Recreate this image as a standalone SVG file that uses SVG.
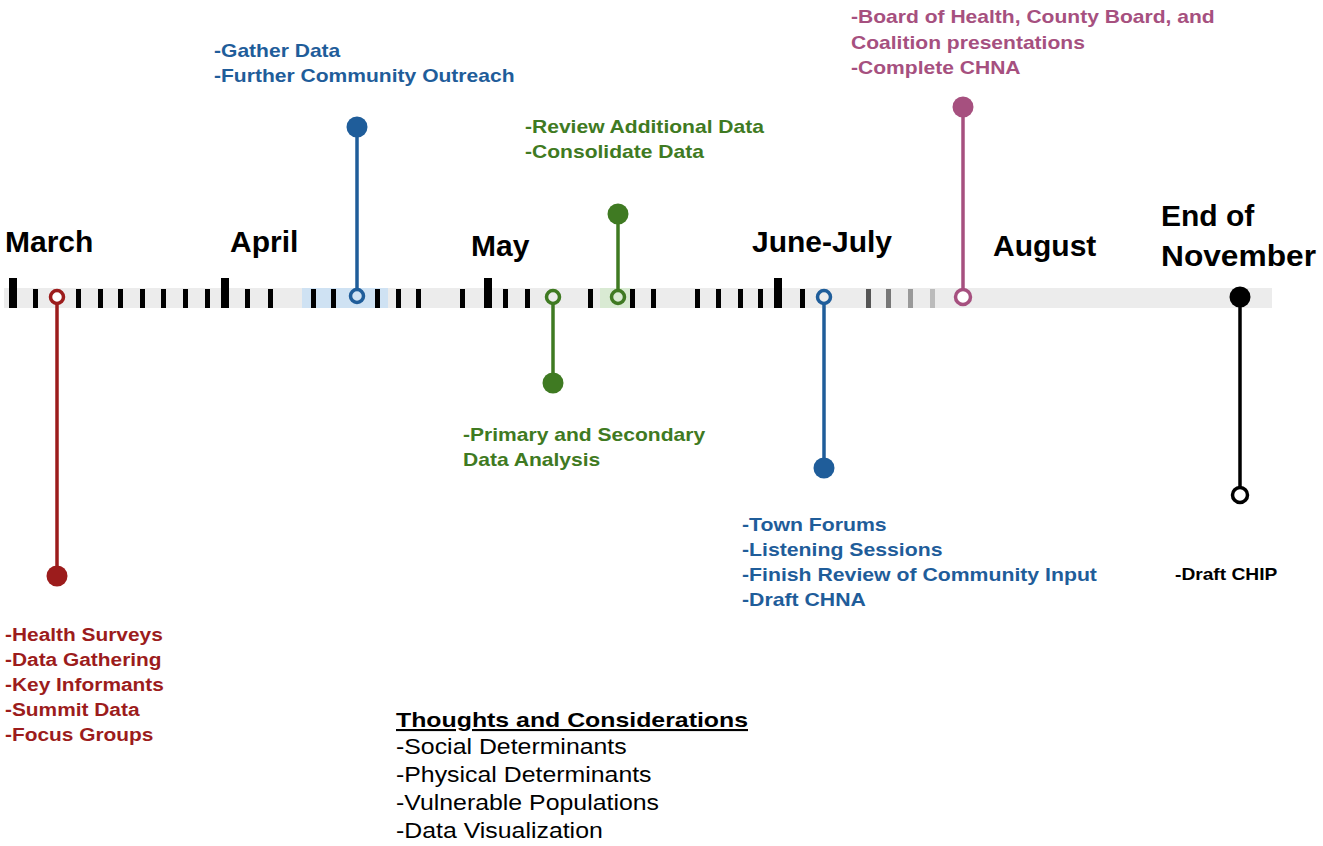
<svg xmlns="http://www.w3.org/2000/svg" width="1323" height="846" viewBox="0 0 1323 846">
<style>
.m{font-family:"Liberation Sans",Arial,sans-serif;font-weight:bold;font-size:30px;fill:#000}
.t{font-family:"Liberation Sans",Arial,sans-serif;font-weight:bold;font-size:18px}
.r{fill:#9c1c1c}.b{fill:#1f5d9a}.g{fill:#3f7a22}.p{fill:#a6507f}.k{fill:#000}
.s{stroke-width:3.5;fill:none}
.tk{fill:#000}
.n{font-family:"Liberation Sans",Arial,sans-serif;font-size:22px;fill:#000}
</style>
<rect x="0" y="0" width="1323" height="846" fill="#fff"/>
<g id="timeline">
<rect x="4" y="288" width="1268" height="20" fill="#ececec"/>
<rect x="302" y="288" width="86" height="20" fill="#cfe2f3"/>
<rect x="600" y="288" width="32" height="20" fill="#d9ead3"/>
<g class="tk">
<rect x="9" y="278" width="8" height="30"/>
<rect x="33" y="289" width="5" height="19"/>
<rect x="76" y="289" width="5" height="19"/>
<rect x="98" y="289" width="5" height="19"/>
<rect x="118" y="289" width="5" height="19"/>
<rect x="140" y="289" width="5" height="19"/>
<rect x="161" y="289" width="5" height="19"/>
<rect x="183" y="289" width="5" height="19"/>
<rect x="205" y="289" width="5" height="19"/>
<rect x="221" y="278" width="8" height="30"/>
<rect x="245" y="289" width="5" height="19"/>
<rect x="268" y="289" width="5" height="19"/>
<rect x="311" y="289" width="5" height="19"/>
<rect x="331" y="289" width="5" height="19"/>
<rect x="375" y="289" width="5" height="19"/>
<rect x="396" y="289" width="5" height="19"/>
<rect x="416" y="289" width="5" height="19"/>
<rect x="460" y="289" width="5" height="19"/>
<rect x="484" y="278" width="8" height="30"/>
<rect x="503" y="289" width="5" height="19"/>
<rect x="525" y="289" width="5" height="19"/>
<rect x="588" y="289" width="5" height="19"/>
<rect x="630" y="289" width="5" height="19"/>
<rect x="651" y="289" width="5" height="19"/>
<rect x="695" y="289" width="5" height="19"/>
<rect x="716" y="289" width="5" height="19"/>
<rect x="738" y="289" width="5" height="19"/>
<rect x="758" y="289" width="5" height="19"/>
<rect x="774" y="278" width="8" height="30"/>
<rect x="800" y="289" width="5" height="19"/>
<rect x="866" y="289" width="5" height="19" fill="#555"/>
<rect x="886" y="289" width="5" height="19" fill="#777"/>
<rect x="908" y="289" width="5" height="19" fill="#999"/>
<rect x="930" y="289" width="5" height="19" fill="#bbb"/>
</g>
</g>
<g id="connectors">
<line x1="57" y1="304" x2="57" y2="576" stroke="#9c1c1c" class="s"/>
<line x1="357" y1="127" x2="357" y2="290" stroke="#1f5d9a" class="s"/>
<line x1="553" y1="304" x2="553" y2="383" stroke="#3f7a22" class="s"/>
<line x1="618" y1="214" x2="618" y2="290" stroke="#3f7a22" class="s"/>
<line x1="824" y1="304" x2="824" y2="468" stroke="#1f5d9a" class="s"/>
<line x1="963" y1="107" x2="963" y2="290" stroke="#a6507f" class="s"/>
<line x1="1240" y1="297" x2="1240" y2="488" stroke="#000" class="s"/>
</g>
<g id="months">
<text class="m" x="5" y="252">March</text>
<text class="m" x="230" y="252">April</text>
<text class="m" x="471" y="256">May</text>
<text class="m" x="752" y="252">June-July</text>
<text class="m" x="993" y="256">August</text>
<text class="m" x="1161" y="226">End of</text>
<text class="m" x="1161" y="266" textLength="155" lengthAdjust="spacingAndGlyphs">November</text>
</g>
<g id="march">
<circle cx="57" cy="297" r="6.5" fill="#fff" stroke="#9c1c1c" stroke-width="3.5"/>
<circle cx="57" cy="576" r="10.5" class="r"/>
<g transform="translate(5,0) scale(1.16,1)">
<text class="t r" x="0" y="641">-Health Surveys</text>
<text class="t r" x="0" y="666">-Data Gathering</text>
<text class="t r" x="0" y="691">-Key Informants</text>
<text class="t r" x="0" y="716">-Summit Data</text>
<text class="t r" x="0" y="741">-Focus Groups</text>
</g>
</g>
<g id="april">
<circle cx="357" cy="296" r="6.5" fill="none" stroke="#1f5d9a" stroke-width="3.5"/>
<circle cx="357" cy="127" r="10.5" class="b"/>
<g transform="translate(214,0) scale(1.17,1)">
<text class="t b" x="0" y="57">-Gather Data</text>
<text class="t b" x="0" y="82">-Further Community Outreach</text>
</g>
</g>
<g id="may1">
<circle cx="553" cy="297" r="6.5" fill="none" stroke="#3f7a22" stroke-width="3.5"/>
<circle cx="553" cy="383" r="10.5" class="g"/>
<g transform="translate(463,0) scale(1.17,1)">
<text class="t g" x="0" y="441">-Primary and Secondary</text>
<text class="t g" x="0" y="466">Data Analysis</text>
</g>
</g>
<g id="may2">
<circle cx="618" cy="297" r="6.5" fill="none" stroke="#3f7a22" stroke-width="3.5"/>
<circle cx="618" cy="214" r="10.5" class="g"/>
<g transform="translate(525,0) scale(1.17,1)">
<text class="t g" x="0" y="133">-Review Additional Data</text>
<text class="t g" x="0" y="158">-Consolidate Data</text>
</g>
</g>
<g id="junejuly">
<circle cx="824" cy="297" r="6.5" fill="none" stroke="#1f5d9a" stroke-width="3.5"/>
<circle cx="824" cy="468" r="10.5" class="b"/>
<g transform="translate(742,0) scale(1.18,1)">
<text class="t b" x="0" y="531">-Town Forums</text>
<text class="t b" x="0" y="556">-Listening Sessions</text>
<text class="t b" x="0" y="581">-Finish Review of Community Input</text>
<text class="t b" x="0" y="606">-Draft CHNA</text>
</g>
</g>
<g id="august">
<circle cx="963" cy="297" r="7.5" fill="#fff" stroke="#a6507f" stroke-width="3.5"/>
<circle cx="963" cy="107" r="10.5" class="p"/>
<g transform="translate(851,0) scale(1.17,1)">
<text class="t p" x="0" y="23">-Board of Health, County Board, and</text>
<text class="t p" x="0" y="49">Coalition presentations</text>
<text class="t p" x="0" y="74">-Complete CHNA</text>
</g>
</g>
<g id="november">
<circle cx="1240" cy="297" r="10.5" class="k"/>
<circle cx="1240" cy="495" r="7.5" fill="#fff" stroke="#000" stroke-width="3.5"/>
<g transform="translate(1175,0) scale(1.2,1)">
<text class="t k" x="0" y="580" style="font-size:16px">-Draft CHIP</text>
</g>
</g>
<g id="thoughts">
<text class="n" x="396" y="727" style="font-weight:bold;font-size:21px" text-decoration="underline" textLength="352" lengthAdjust="spacingAndGlyphs">Thoughts and Considerations</text>
<g transform="translate(396,0) scale(1.13,1)">
<text class="n" x="0" y="754">-Social Determinants</text>
<text class="n" x="0" y="782">-Physical Determinants</text>
<text class="n" x="0" y="810">-Vulnerable Populations</text>
<text class="n" x="0" y="838">-Data Visualization</text>
</g>
</g>
</svg>
